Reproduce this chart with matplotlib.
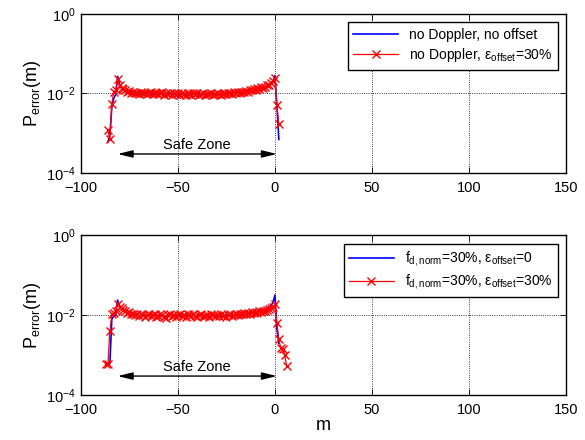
#!/usr/bin/env python3
# -*- coding: utf-8 -*-

import matplotlib
matplotlib.use('Agg')
import matplotlib.pyplot as plt
import numpy as np

plt.rcParams['font.family'] = ['Liberation Sans', 'DejaVu Sans']
plt.rcParams['mathtext.fontset'] = 'custom'
plt.rcParams['mathtext.rm'] = 'Liberation Sans'
plt.rcParams['mathtext.it'] = 'Liberation Sans:italic'

# values in units of 1e-2
x_top = np.arange(-86, 3)
blue_top = [0.06, 0.09, 0.45, 0.75, 0.95, 2.7, 1.7, 1.35, 1.25, 1.1,
            1.2, 1.0, 1.1, 0.95, 1.05, 1.0, 1.1, 0.9, 1.05, 0.95,
            1.0, 1.1, 0.9, 1.0, 1.05, 0.92, 1.0, 1.08, 0.95, 1.0,
            0.9, 1.02, 0.97, 1.0, 0.93, 0.98, 0.8, 0.95, 1.0, 0.92,
            1.0, 0.97, 0.93, 1.0, 0.95, 0.98, 0.92, 1.0, 0.96, 0.94,
            1.0, 0.95, 0.98, 0.93, 0.97, 1.0, 0.95, 0.92, 0.97, 1.0,
            0.95, 0.98, 1.02, 0.97, 1.05, 1.0, 1.08, 1.02, 1.1, 1.05,
            1.15, 1.08, 1.2, 1.12, 1.25, 1.18, 1.3, 1.22, 1.35, 1.3,
            1.45, 1.4, 1.55, 1.6, 1.75, 2.0, 2.8, 0.5, 0.07]
red_top = [0.12, 0.07, 0.55, 1.1, 1.2, 2.3, 1.6, 1.4, 1.3, 1.2,
           1.1, 1.15, 1.0, 1.1, 1.0, 1.05, 0.95, 1.1, 1.0, 1.05,
           0.95, 1.0, 1.1, 0.95, 1.0, 1.05, 0.95, 1.0, 1.1, 0.92,
           1.0, 0.95, 1.05, 0.93, 1.0, 0.97, 1.02, 0.9, 1.0, 0.98,
           0.93, 1.02, 0.97, 0.92, 1.0, 0.95, 1.0, 0.93, 0.98, 1.0,
           0.94, 0.98, 0.95, 1.0, 0.93, 0.97, 1.0, 0.96, 0.93, 0.98,
           1.0, 0.95, 1.0, 1.05, 0.98, 1.06, 1.02, 1.1, 1.05, 1.12,
           1.08, 1.18, 1.12, 1.25, 1.2, 1.3, 1.22, 1.35, 1.3, 1.45,
           1.38, 1.5, 1.6, 1.65, 1.85, 2.1, 2.4, 0.5, 0.17]

x_bot_blue = np.arange(-87, 3)
blue_bot = [0.06, 0.06, 0.06, 0.8, 0.95, 1.0, 2.4, 1.6, 1.5, 1.35,
            1.2, 1.15, 1.1, 1.05, 1.1, 0.98, 1.05, 1.0, 0.95, 1.05,
            1.0, 0.95, 1.0, 1.05, 0.93, 1.0, 0.95, 1.02, 0.97, 1.0,
            0.95, 0.9, 0.98, 1.05, 1.0, 0.95, 0.97, 1.0, 0.98, 0.93,
            1.02, 0.96, 1.0, 0.95, 0.97, 1.0, 0.96, 0.98, 0.95, 1.0,
            0.97, 0.95, 1.0, 0.97, 0.98, 1.0, 0.96, 0.98, 1.0, 0.97,
            0.92, 0.98, 1.0, 1.02, 0.97, 1.03, 1.0, 1.05, 1.02, 1.1,
            1.05, 1.12, 1.08, 1.15, 1.1, 1.2, 1.15, 1.25, 1.2, 1.3,
            1.25, 1.35, 1.4, 1.5, 1.6, 1.75, 2.1, 3.2, 0.45, 0.2]
x_bot_red = np.arange(-87, 7)
red_bot = [0.06, 0.06, 0.4, 1.05, 1.15, 1.3, 1.9, 1.6, 1.5, 1.35,
           1.25, 1.15, 1.2, 1.05, 1.1, 1.0, 1.08, 0.95, 1.05, 1.0,
           0.92, 1.0, 1.05, 0.95, 1.0, 1.05, 0.9, 0.95, 1.08, 1.0,
           0.92, 0.85, 1.0, 1.1, 0.95, 1.02, 0.9, 1.0, 1.05, 0.95,
           1.0, 0.92, 1.08, 1.0, 0.95, 1.05, 0.98, 0.93, 1.0, 1.05,
           0.95, 0.98, 1.0, 0.93, 1.05, 1.0, 0.95, 1.02, 0.97, 1.05,
           0.95, 1.0, 0.93, 1.0, 1.05, 0.97, 1.02, 1.1, 1.0, 1.08,
           1.05, 1.15, 1.05, 1.12, 1.1, 1.18, 1.12, 1.2, 1.15, 1.25,
           1.2, 1.3, 1.25, 1.35, 1.45, 1.5, 1.6, 1.9, 0.65, 0.25,
           0.15, 0.14, 0.1, 0.055]

labels_top = ['no Doppler, no offset',
              r'no Doppler, ε$_\mathregular{offset}$=30%']
labels_bot = [r'f$_\mathregular{d,norm}$=30%, ε$_\mathregular{offset}$=0',
              r'f$_\mathregular{d,norm}$=30%, ε$_\mathregular{offset}$=30%']


def setup_axes(ax):
        ax.set_yscale('log')
        ax.set_xlim(-100, 150)
        ax.set_ylim(1e-4, 1)
        ax.set_xticks([-100, -50, 0, 50, 100, 150])
        ax.set_xticklabels(['\u2212100', '\u221250', '0', '50', '100', '150'])
        ax.set_yticks([1e-4, 1e-2, 1])
        ax.set_yticklabels([r'10$^{\mathregular{-4}}$', r'10$^{\mathregular{-2}}$',
                            r'10$^{\mathregular{0}}$'])
        ax.yaxis.set_minor_locator(matplotlib.ticker.NullLocator())
        ax.tick_params(direction='in', top=True, right=True, labelsize=10.5,
                       length=4, width=0.6)
        ax.tick_params(axis='x', pad=6)
        ax.grid(True, color='black', linestyle=':', linewidth=0.6)
        for s in ax.spines.values():
                s.set_linewidth(1.0)
        ax.set_ylabel(r'P$_\mathregular{error}$(m)', fontsize=13, labelpad=2)
        ax.annotate('', xy=(-81, 3e-4), xytext=(1, 3e-4),
                    arrowprops=dict(arrowstyle='<|-|>,head_length=0.9,head_width=0.22',
                                    color='black', lw=1.0, shrinkA=0, shrinkB=0))
        ax.text(-40, 5e-4, 'Safe Zone', ha='center', va='center', fontsize=10.5)


fig = plt.figure(figsize=(5.85, 4.4), dpi=100)
ax1 = fig.add_axes([0.138, 0.607, 0.830, 0.361])
ax2 = fig.add_axes([0.138, 0.102, 0.830, 0.363])

ax1.plot(x_top, np.array(blue_top) * 1e-2, color='blue', lw=1.2, label=labels_top[0])
ax1.plot(x_top, np.array(red_top) * 1e-2, color='red', lw=0.9, marker='x',
         markersize=6, markeredgewidth=1.0, label=labels_top[1])
ax2.plot(x_bot_blue, np.array(blue_bot) * 1e-2, color='blue', lw=1.2, label=labels_bot[0])
ax2.plot(x_bot_red, np.array(red_bot) * 1e-2, color='red', lw=0.9, marker='x',
         markersize=6, markeredgewidth=1.0, label=labels_bot[1])

for ax in (ax1, ax2):
        setup_axes(ax)
        leg = ax.legend(loc='upper right', fontsize=10, fancybox=False,
                        framealpha=1, edgecolor='black', borderaxespad=0.6,
                        handlelength=3.2, labelspacing=0.3)
        leg.get_frame().set_linewidth(1.0)

ax2.set_xlabel('m', fontsize=13, labelpad=0)

fig.savefig('out.png', dpi=100)
